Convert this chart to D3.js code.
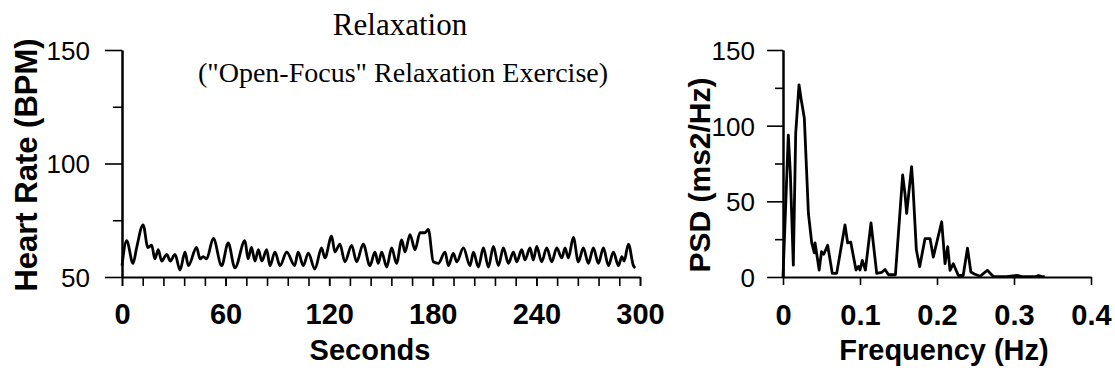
<!DOCTYPE html>
<html><head><meta charset="utf-8">
<script src="https://cdn.jsdelivr.net/npm/d3@7"></script>
<style>
html,body{margin:0;padding:0;background:#fff;}
svg{display:block;}
</style></head>
<body>
<svg id="c" width="1115" height="373"></svg>
<script>
// ---- Data ----
const hrSeconds = [0,2.7,6.4,8.5,12.2,15,17.2,19,21,23,25.9,28,30.7,33.6,36.5,38.4,43.2,45.2,47,49,52.9,57.7,61.5,65.4,71.2,73,75,77,79,81,83.8,85.7,88.6,91.5,95.4,100,102,105,107.9,111.7,115.6,117.5,121.4,123.3,126.2,129.1,133,135.9,139.7,143.6,146.5,148.4,150.4,153.3,156.2,159,162,163.9,166.8,169.7,172.6,175.5,177.4,180.3,183.2,187.1,189,191.9,193.9,197.7,201.6,203.5,206.4,209.3,212.2,215.1,218,220.9,223.8,226.7,228.6,231.5,233.4,236.3,238.2,240.2,243,246,248.9,251.8,254.7,256.6,258.5,261.4,264.3,267.2,270.1,273,275.9,278.8,281.7,284.6,287.5,289.5,290.8,293.3,296.2,297.2];
const hrBpm = [55,66,56,63,73,63,64,58,62,57,60,57,60,53,61,55,63,58,59,58,67,55,65,54,66,58,63,57,62,57,62,55,61,55,61,55,61,55,60.5,53.5,62.8,58.4,68,61,64.5,56.7,63.9,56.7,64.5,55,61,56,61,54.4,62.8,56,66.3,61,68.7,62,69.5,69.5,71,56.7,56,61,55,60.4,56.7,62.8,55,61,54.4,62.8,54.4,63.5,55,62.8,56,61,56.7,62,57.5,62.8,57.5,63.5,56.7,62.8,56.7,62.8,58.4,62.8,58.4,67.4,56.7,62.8,56,62.8,56,62.8,55,61,55,59,57,64.5,55,54];

const psdFreq = [0,0.0069,0.0095,0.0134,0.0165,0.0208,0.0234,0.0277,0.033,0.0373,0.0407,0.0416,0.047,0.050,0.053,0.058,0.064,0.0697,0.0805,0.084,0.088,0.0948,0.098,0.100,0.103,0.107,0.1143,0.1217,0.128,0.1325,0.137,0.146,0.1515,0.1554,0.1584,0.1606,0.167,0.1688,0.1732,0.1775,0.1844,0.191,0.1952,0.2061,0.2104,0.2139,0.2169,0.2212,0.2277,0.234,0.2396,0.244,0.2485,0.256,0.2653,0.2732,0.29,0.304,0.31,0.328,0.332,0.336,0.34];
const psdValue = [0,93.8,69,7.8,95,127,118,105,42,22.5,16,22.5,4.6,16.7,15,21,2.4,2.4,34.4,22.5,23,4.6,7,4.6,11,4.6,35.7,2.4,3,5,1.5,1.5,40,67.4,55,42,72.9,59.7,17.8,6.8,25.3,25.3,13.2,36.5,8.8,20,4.4,8.8,1,1,19,3.3,2,0.5,4.4,0.3,0.3,1,0.3,0.3,1,0.3,0.3];

const hrXTicks = [0,60,120,180,240,300];
const hrXMinor = d3.range(0,301,12);
const hrYTicks = [50,100,150];
const hrYMinor = [75,125];
const psdXTicks = [0,0.1,0.2,0.3,0.4];
const psdYTicks = [0,50,100,150];
const psdYMinor = [25,75,125];

const titleText = "Relaxation";
const subtitleText = '("Open-Focus" Relaxation Exercise)';

// ---- Drawing ----
const svg = d3.select("#c");
const sans = "'Liberation Sans', Arial, sans-serif";
const serif = "'Liberation Serif', 'Times New Roman', serif";

function styleAxis(g){
  g.select(".domain").attr("stroke","#000").attr("stroke-width",2);
  g.selectAll(".tick line").attr("stroke","#000").attr("stroke-width",1.6);
  g.selectAll(".tick text").attr("fill","#000");
}

// Left chart
const x1 = d3.scaleLinear().domain([0,300]).range([122,640]);
const y1 = d3.scaleLinear().domain([50,150]).range([277,50]);

const gx1m = svg.append("g").attr("transform","translate(0,277)")
  .call(d3.axisBottom(x1).tickValues(hrXMinor).tickSize(9).tickSizeOuter(0).tickFormat(""));
styleAxis(gx1m);
const gx1 = svg.append("g").attr("transform","translate(0,277)")
  .call(d3.axisBottom(x1).tickValues(hrXTicks).tickSize(9).tickSizeOuter(0).tickFormat(d3.format("d")));
styleAxis(gx1);
gx1.select(".domain").remove();
gx1.selectAll(".tick text").attr("y",47).attr("dy",0)
  .style("font-family",sans).style("font-size","29px").style("font-weight","bold");

const gy1m = svg.append("g").attr("transform","translate(122,0)")
  .call(d3.axisLeft(y1).tickValues(hrYMinor).tickSize(9).tickSizeOuter(0).tickFormat(""));
styleAxis(gy1m);
const gy1 = svg.append("g").attr("transform","translate(122,0)")
  .call(d3.axisLeft(y1).tickValues(hrYTicks).tickSize(17).tickSizeOuter(0).tickPadding(15));
styleAxis(gy1);
gy1.selectAll(".tick text").style("font-family",sans).style("font-size","26px").attr("dy","0.36em");

const hrData = hrSeconds.map((t,i)=>[t,hrBpm[i]]);
svg.append("path").datum(hrData)
  .attr("fill","none").attr("stroke","#000").attr("stroke-width",2.8).attr("stroke-linejoin","round")
  .attr("d", d3.line().x(d=>x1(d[0])).y(d=>y1(d[1])).curve(d3.curveMonotoneX));

svg.append("text").attr("x",370).attr("y",360).attr("text-anchor","middle")
  .style("font-family",sans).style("font-size","29px").style("font-weight","bold").text("Seconds");
svg.append("text").attr("transform","translate(37,165) rotate(-90)").attr("text-anchor","middle")
  .style("font-family",sans).style("font-size","31px").style("font-weight","bold").text("Heart Rate (BPM)");

svg.append("text").attr("x",400).attr("y",35).attr("text-anchor","middle")
  .style("font-family",serif).style("font-size","31px").text(titleText);
svg.append("text").attr("x",403).attr("y",82).attr("text-anchor","middle")
  .style("font-family",serif).style("font-size","28px").text(subtitleText);

// Right chart
const x2 = d3.scaleLinear().domain([0,0.4]).range([783,1091]);
const y2 = d3.scaleLinear().domain([0,150]).range([277,50]);

const gx2 = svg.append("g").attr("transform","translate(0,277)")
  .call(d3.axisBottom(x2).tickValues(psdXTicks).tickSize(8).tickSizeOuter(0).tickFormat(d=> d===0 ? "0" : d3.format(".1f")(d)));
styleAxis(gx2);
gx2.selectAll(".tick text").attr("y",48).attr("dy",0)
  .style("font-family",sans).style("font-size","29px").style("font-weight","bold");

const gy2m = svg.append("g").attr("transform","translate(783,0)")
  .call(d3.axisLeft(y2).tickValues(psdYMinor).tickSize(8).tickSizeOuter(0).tickFormat(""));
styleAxis(gy2m);
const gy2 = svg.append("g").attr("transform","translate(783,0)")
  .call(d3.axisLeft(y2).tickValues(psdYTicks).tickSize(16).tickSizeOuter(0).tickPadding(12));
styleAxis(gy2);
gy2.selectAll(".tick text").style("font-family",sans).style("font-size","26px").attr("dy","0.36em");

const psdData = psdFreq.map((f,i)=>[f,psdValue[i]]);
svg.append("path").datum(psdData)
  .attr("fill","none").attr("stroke","#000").attr("stroke-width",2.8).attr("stroke-linejoin","round")
  .attr("d", d3.line().x(d=>x2(d[0])).y(d=>y2(d[1])));

svg.append("text").attr("x",944).attr("y",360).attr("text-anchor","middle")
  .style("font-family",sans).style("font-size","29px").style("font-weight","bold").text("Frequency (Hz)");
svg.append("text").attr("transform","translate(710,175) rotate(-90)").attr("text-anchor","middle")
  .style("font-family",sans).style("font-size","30px").style("font-weight","bold").text("PSD (ms2/Hz)");
</script>
</body></html>
